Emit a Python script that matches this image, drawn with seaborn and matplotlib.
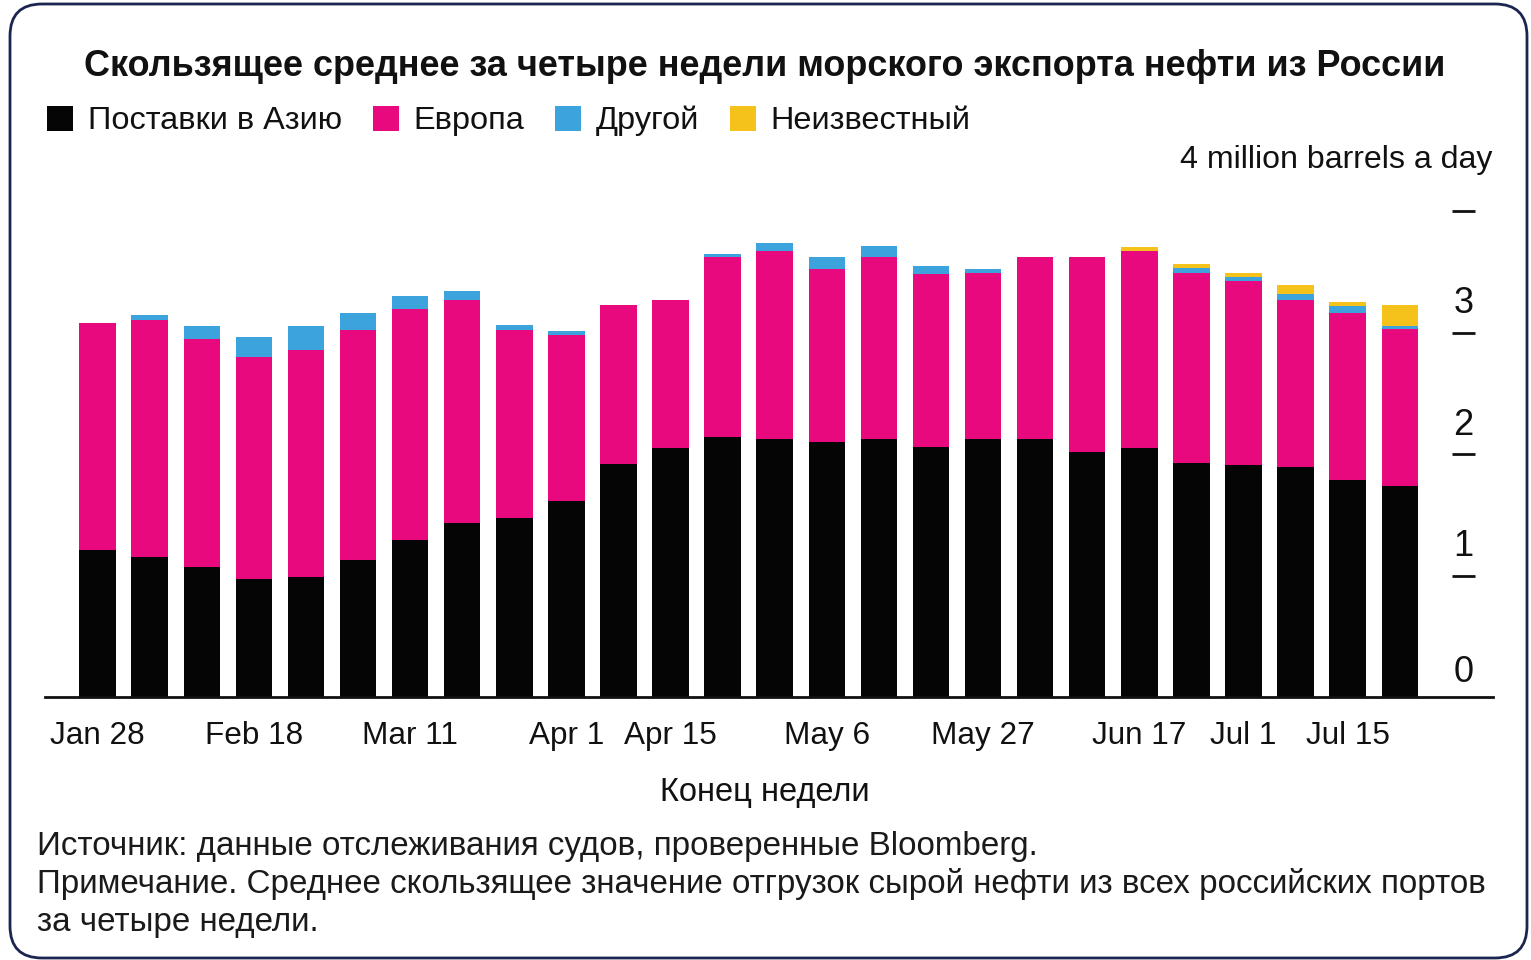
import seaborn as sns
import matplotlib.pyplot as plt
import pandas as pd
from matplotlib.patches import Patch, FancyBboxPatch

# week ending labels
weeks = ["Jan 28", "Feb 4", "Feb 11", "Feb 18", "Feb 25", "Mar 4", "Mar 11", "Mar 18",
         "Mar 25", "Apr 1", "Apr 8", "Apr 15", "Apr 22", "Apr 29", "May 6", "May 13",
         "May 20", "May 27", "Jun 3", "Jun 10", "Jun 17", "Jun 24", "Jul 1", "Jul 8",
         "Jul 15", "Jul 22"]
shown_weeks = ["Jan 28", "Feb 18", "Mar 11", "Apr 1", "Apr 15", "May 6", "May 27",
               "Jun 17", "Jul 1", "Jul 15"]

# million barrels a day
asia = [1.21, 1.15, 1.07, 0.97, 0.99, 1.13, 1.29, 1.43, 1.47, 1.61, 1.92, 2.05, 2.14,
        2.12, 2.10, 2.12, 2.06, 2.12, 2.12, 2.02, 2.05, 1.93, 1.91, 1.89, 1.79, 1.74]
europe = [1.87, 1.95, 1.88, 1.83, 1.87, 1.89, 1.90, 1.84, 1.55, 1.37, 1.31, 1.22, 1.48,
          1.55, 1.42, 1.50, 1.42, 1.37, 1.50, 1.60, 1.62, 1.56, 1.51, 1.38, 1.37, 1.29]
other = [0.00, 0.04, 0.10, 0.16, 0.19, 0.14, 0.11, 0.07, 0.04, 0.03, 0.00, 0.00, 0.03,
         0.07, 0.10, 0.09, 0.07, 0.03, 0.00, 0.00, 0.00, 0.04, 0.04, 0.05, 0.06, 0.02]
unknown = [0, 0, 0, 0, 0, 0, 0, 0, 0, 0, 0, 0, 0,
           0, 0, 0, 0, 0, 0, 0, 0.03, 0.03, 0.03, 0.07, 0.03, 0.18]

series = ["Поставки в Азию", "Европа", "Другой", "Неизвестный"]
colors = ["#050505", "#E8097F", "#3DA3DD", "#F4C21B"]

sns.set_style("white")
plt.rcParams["font.family"] = ["Liberation Sans", "DejaVu Sans"]

df = pd.DataFrame({"week": weeks, "asia": asia, "europe": europe,
                   "other": other, "unknown": unknown})
df["l1"] = df["asia"]
df["l2"] = df["l1"] + df["europe"]
df["l3"] = df["l2"] + df["other"]
df["l4"] = df["l3"] + df["unknown"]

W, H = 1531, 960
fig = plt.figure(figsize=(W / 100, H / 100), dpi=100)
ax = fig.add_axes([45 / W, 263 / H, 1448 / W, 486 / H])

# stack by drawing cumulative totals from top layer down
for col, c in zip(["l4", "l3", "l2", "l1"], colors[::-1]):
    sns.barplot(data=df, x="week", y=col, color=c, saturation=1, width=0.7,
                linewidth=0, ax=ax)

ax.set_xlim(-1.01, 26.79)
ax.set_ylim(0, 4)
ax.set_xlabel("")
ax.set_ylabel("")
for s in ["top", "right", "left"]:
    ax.spines[s].set_visible(False)
ax.spines["bottom"].set_linewidth(2)
ax.spines["bottom"].set_color("#111111")

ax.set_xticks([weeks.index(w) for w in shown_weeks], shown_weeks)
ax.tick_params(axis="x", length=8, width=1.2, pad=9, labelsize=22.7,
               colors="#111111", direction="out")
ax.set_yticks([])

# y scale on the right: short dashes with numbers sitting above
ytr = ax.get_yaxis_transform()
ax.hlines([1, 2, 3, 4], 0.9717, 0.9876, transform=ytr, color="#111111",
          linewidth=2, clip_on=False)
for v in [0, 1, 2, 3]:
    ax.annotate(str(v), xy=(0.9795, v), xycoords=ytr,
                xytext=(0, 11 if v == 0 else 14),
                textcoords="offset points", ha="center", va="baseline",
                fontsize=26, color="#111111")

fig.text(1493 / W, 1 - 160 / H, "4 million barrels a day", ha="right", va="center",
         fontsize=23.1, color="#111111")

fig.text(765 / W, 1 - 66 / H,
         "Скользящее среднее за четыре недели морского экспорта нефти из России",
         ha="center", va="center", fontsize=25.9, fontweight="bold", color="#111111")

handles = [Patch(facecolor=c, edgecolor="none") for c in colors]
fig.legend(handles, series, loc="center left", bbox_to_anchor=(47 / W, 1 - 121 / H),
           ncol=4, frameon=False, fontsize=23.4, handlelength=0.8, handleheight=0.8,
           handletextpad=0.45, columnspacing=0.95, borderpad=0, borderaxespad=0,
           labelcolor="#111111")

fig.text(765 / W, 1 - 793 / H, "Конец недели", ha="center", va="center",
         fontsize=23.5, color="#111111")

notes = ["Источник: данные отслеживания судов, проверенные Bloomberg.",
         "Примечание. Среднее скользящее значение отгрузок сырой нефти из всех российских портов",
         "за четыре недели."]
for i, t in enumerate(notes):
    fig.text(37 / W, 1 - (846 + 38.5 * i) / H, t, ha="left", va="center",
             fontsize=23.9, color="#1a1a1a")

frame = FancyBboxPatch((0.10, 0.02), 15.17, 9.54,
                       boxstyle="round,pad=0,rounding_size=0.32",
                       transform=fig.dpi_scale_trans, fill=False,
                       edgecolor="#1b2550", linewidth=2)
fig.add_artist(frame)

fig.savefig("out.png", dpi=100)
